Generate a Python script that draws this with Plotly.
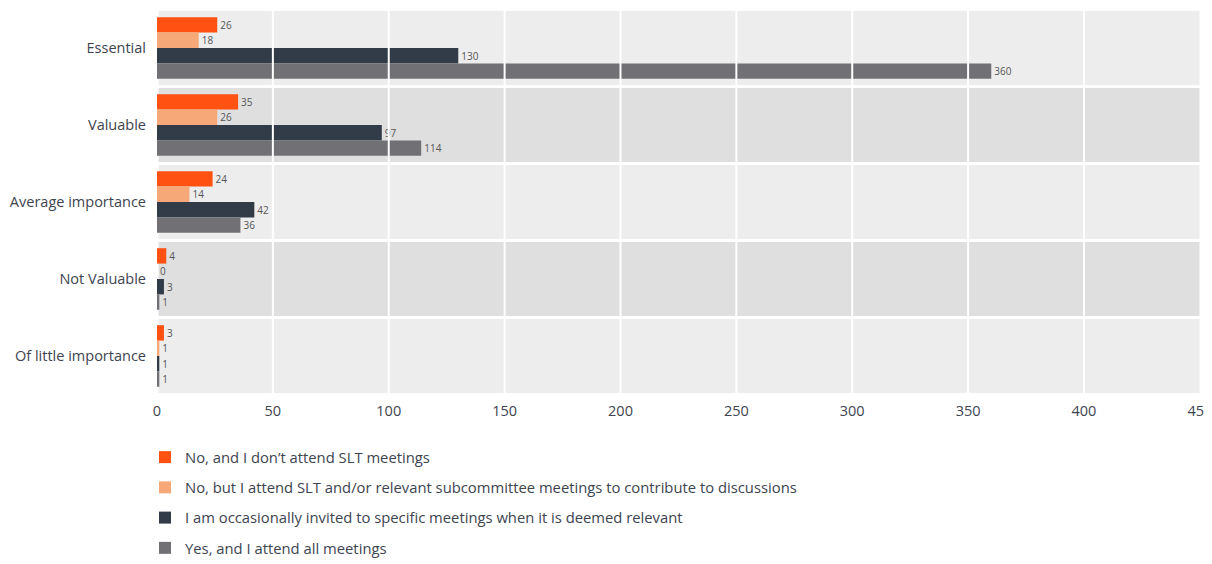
import plotly.graph_objects as go

categories = ["Essential", "Valuable", "Average importance", "Not Valuable", "Of little importance"]
series_names = [
    "No, and I don’t attend SLT meetings",
    "No, but I attend SLT and/or relevant subcommittee meetings to contribute to discussions",
    "I am occasionally invited to specific meetings when it is deemed relevant",
    "Yes, and I attend all meetings",
]
no_dont_attend = [26, 35, 24, 4, 3]
no_but_attend = [18, 26, 14, 0, 1]
occasionally = [130, 97, 42, 3, 1]
yes_all = [360, 114, 36, 1, 1]
series_values = [no_dont_attend, no_but_attend, occasionally, yes_all]
colors = ["#ff5212", "#f7a878", "#323c48", "#717075"]
x_ticks = [0, 50, 100, 150, 200, 250, 300, 350, 400, 450]

fig = go.Figure()
for i, (name, vals, col) in enumerate(zip(series_names, series_values, colors)):
    fig.add_trace(go.Bar(
        y=categories, x=vals, name=name, orientation="h",
        marker=dict(color=col, line=dict(width=0)),
        text=[str(v) for v in vals], textposition="outside",
        textfont=dict(size=10, color="#555555", family="Open Sans"),
        cliponaxis=False, legendgroup=f"g{i}",
    ))

shapes = []
band_cols = ["#ededed", "#dfdfdf"]
for i, c in enumerate(categories):
    shapes.append(dict(type="rect", xref="paper", yref="y", x0=0, x1=1,
                       y0=i - 0.5, y1=i + 0.5, fillcolor=band_cols[i % 2],
                       line=dict(color="white", width=3), layer="below"))
for t in x_ticks[1:-1]:
    shapes.append(dict(type="line", xref="x", yref="paper", x0=t, x1=t, y0=0, y1=1,
                       line=dict(color="white", width=2), layer="above"))

# page body has an 8px default margin, so the figure is sized to fit the window
fig.update_layout(
    width=1204, height=556,
    margin=dict(l=149, r=11, t=0, b=167),
    paper_bgcolor="white", plot_bgcolor="white",
    barmode="group", bargap=0.2, bargroupgap=0,
    font=dict(family="Open Sans", color="#3d4450", size=14),
    shapes=shapes,
    showlegend=True,
    legend=dict(orientation="v", x=-0.0115, xanchor="left", y=-0.116, yanchor="top",
                font=dict(size=14.8, color="#3d4450"), tracegroupgap=8,
                traceorder="grouped", itemwidth=30),
    xaxis=dict(range=[0, 450.5], tickvals=x_ticks, showgrid=False, zeroline=False,
               showline=False, ticks="", ticklabelstandoff=4, automargin=False,
               ticklabeloverflow="allow",
               tickfont=dict(size=14.5, color="#3d4450")),
    yaxis=dict(autorange="reversed", showgrid=False, zeroline=False, showline=False,
               ticks="", ticklabelstandoff=10, automargin=False,
               tickfont=dict(size=14.5, color="#3d4450")),
)
fig.write_html("out.html")
